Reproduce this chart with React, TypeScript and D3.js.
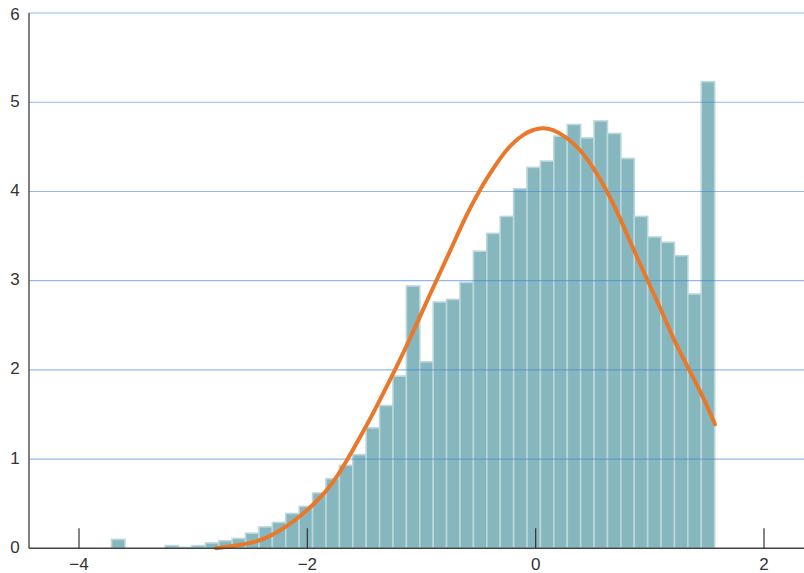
import * as d3 from "d3";

// histogram: bin lower edge of first bin, width of each bin, then the heights
const binStart = -3.715;
const binWidth = 0.1174;
const binHeights = [
  0.1, 0, 0, 0, 0.03, 0.01, 0.03, 0.06, 0.085, 0.11,
  0.17, 0.24, 0.29, 0.39, 0.47, 0.62, 0.78, 0.93, 1.05, 1.35,
  1.6, 1.93, 2.94, 2.09, 2.76, 2.79, 2.98, 3.33, 3.53, 3.72,
  4.03, 4.27, 4.34, 4.62, 4.75, 4.6, 4.79, 4.65, 4.37, 3.72,
  3.49, 3.43, 3.28, 2.85, 5.23,
];

// fitted density curve
const curveX = [
  -2.8, -2.68, -2.5, -2.36, -2.21, -2.07, -1.92, -1.78, -1.66, -1.54,
  -1.42, -1.31, -1.22, -1.1, -0.985, -0.87, -0.75, -0.61, -0.49, -0.37,
  -0.26, -0.11, 0.04, 0.15, 0.27, 0.39, 0.5, 0.62, 0.74, 0.85,
  0.97, 1.09, 1.2, 1.34, 1.47, 1.57,
];
const curveY = [
  0, 0.02, 0.055, 0.11, 0.22, 0.35, 0.52, 0.72, 0.97, 1.24,
  1.52, 1.8, 2.03, 2.35, 2.68, 3.0, 3.33, 3.73, 4.02, 4.26,
  4.47, 4.65, 4.72, 4.7, 4.61, 4.47, 4.28, 4.02, 3.7, 3.37,
  3.03, 2.7, 2.36, 2.01, 1.69, 1.39,
];

const xTicks = [-4, -2, 0, 2];
const yTicks = [0, 1, 2, 3, 4, 5, 6];

const W = 804;
const H = 573;
const axisLeft = 29;

export default function App() {
  const x = d3.scaleLinear().domain([-4, 2]).range([79, 764]);
  const y = d3.scaleLinear().domain([0, 6]).range([548.3, 13]);

  const bars = binHeights.map((h, i) => ({
    x0: binStart + i * binWidth,
    x1: binStart + (i + 1) * binWidth,
    h,
  }));

  const pts = curveX.map((cx, i) => [cx, curveY[i]] as [number, number]);
  const line = d3
    .line<[number, number]>()
    .x((d) => x(d[0]))
    .y((d) => y(d[1]))
    .curve(d3.curveBasis);

  const font = "'Liberation Sans', Arial, Helvetica, sans-serif";

  return (
    <svg
      width={W}
      height={H}
      style={{ position: "absolute", left: 0, top: 0, background: "#fff" }}
    >
      {/* bars */}
      <g>
        {bars
          .filter((b) => b.h > 0)
          .map((b, i) => (
            <rect
              key={i}
              x={x(b.x0)}
              y={y(b.h)}
              width={x(b.x1) - x(b.x0)}
              height={y(0) - y(b.h)}
              fill="#86b7be"
              stroke="#bad7db"
              strokeWidth={1.6}
            />
          ))}
      </g>

      {/* gridlines */}
      <g>
        {yTicks
          .filter((t) => t > 0)
          .map((t) => (
            <line
              key={t}
              x1={axisLeft}
              x2={W}
              y1={y(t)}
              y2={y(t)}
              stroke="#3f7fd6"
              strokeOpacity={0.55}
              strokeWidth={1.1}
            />
          ))}
      </g>

      {/* density curve */}
      <path
        d={line(pts) ?? undefined}
        fill="none"
        stroke="#e9782a"
        strokeWidth={4}
        strokeLinecap="round"
      />

      {/* axes */}
      <line x1={axisLeft} x2={axisLeft} y1={y(6)} y2={y(0)} stroke="#555" strokeWidth={1.5} />
      <line x1={axisLeft} x2={W} y1={y(0)} y2={y(0)} stroke="#444" strokeWidth={1.5} />

      {xTicks.map((t) => (
        <g key={t}>
          <line x1={x(t)} x2={x(t)} y1={y(0)} y2={y(0) - 20} stroke="#333" strokeWidth={1.2} />
          <text
            x={x(t)}
            y={566}
            textAnchor="middle"
            dominantBaseline="middle"
            fontFamily={font}
            fontSize={17}
            fill="#333"
          >
            {t < 0 ? "\u2212" + Math.abs(t) : String(t)}
          </text>
        </g>
      ))}

      {yTicks.map((t) => (
        <text
          key={t}
          x={15}
          y={Math.max(y(t), 16)}
          textAnchor="middle"
          dominantBaseline="middle"
          fontFamily={font}
          fontSize={17}
          fill="#333"
        >
          {t}
        </text>
      ))}
    </svg>
  );
}
